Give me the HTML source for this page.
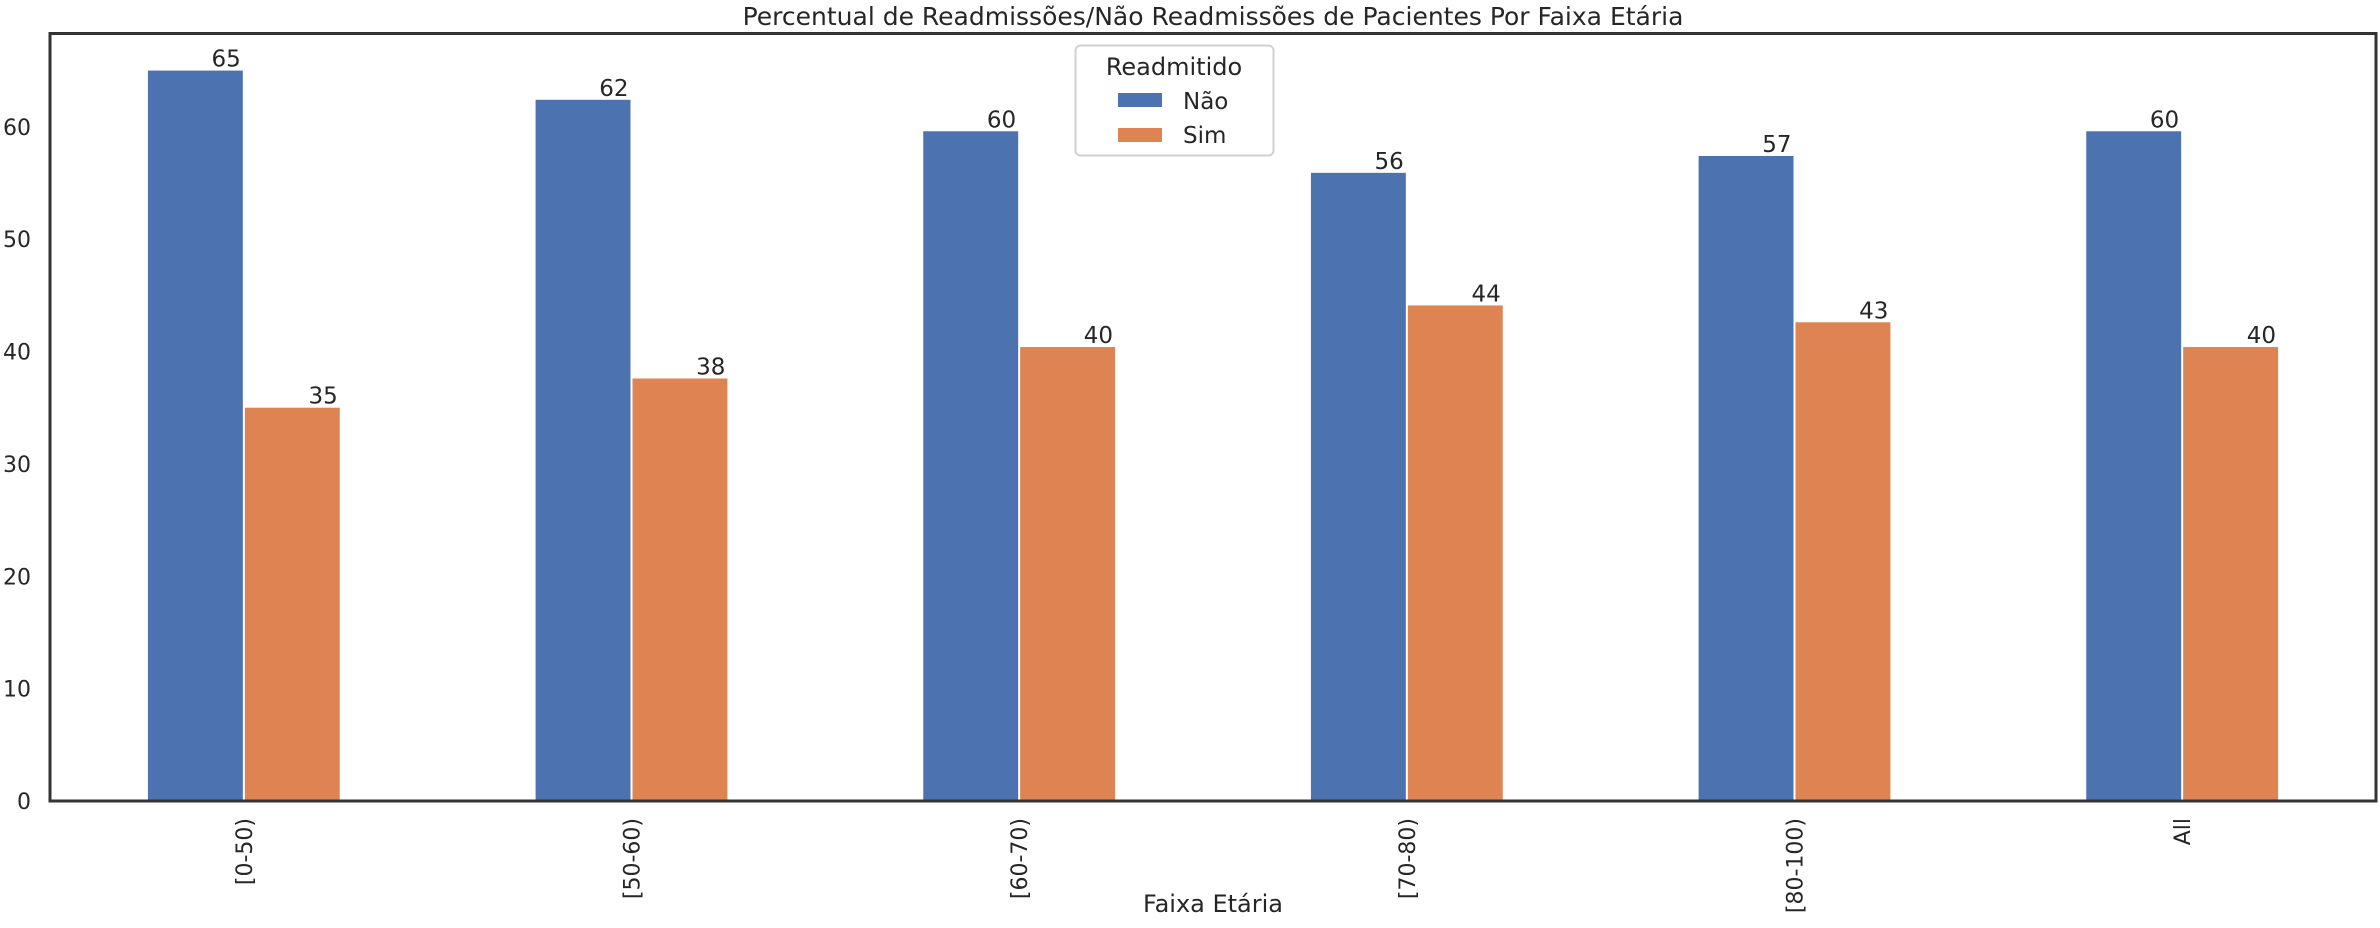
<!DOCTYPE html>
<html><head><meta charset="utf-8"><style>
html,body{margin:0;padding:0;background:#fff}
svg{display:block;font-family:"DejaVu Sans","Liberation Sans",sans-serif}
</style></head><body>
<svg id="chart" width="2380" height="928" viewBox="0 0 2380 928">
<text x="1213" y="25" font-size="25" text-anchor="middle" fill="#262626">Percentual de Readmissões/Não Readmissões de Pacientes Por Faixa Etária</text>
<g id="bars"></g>
<g id="yticks"></g>
<g id="xticks"></g>
<rect x="50" y="33.5" width="2326" height="767.5" fill="none" stroke="#333" stroke-width="3"/>
<text x="1213" y="912" font-size="24" text-anchor="middle" fill="#262626">Faixa Etária</text>
<g>
<rect x="1075.5" y="45.5" width="198" height="110" rx="5" fill="#fff" stroke="#d0d0d0" stroke-width="2"/>
<text x="1174" y="75" font-size="24" text-anchor="middle" fill="#262626">Readmitido</text>
<g><rect x="1118" y="93" width="44" height="14" fill="#4c72b0"/><text x="1183" y="109" font-size="23" fill="#262626">Não</text></g>
<g><rect x="1118" y="128" width="44" height="14" fill="#dd8452"/><text x="1183" y="143" font-size="23" fill="#262626">Sim</text></g>
</g>
</svg>
<script>
const categories = ["[0-50)", "[50-60)", "[60-70)", "[70-80)", "[80-100)", "All"];
const naoValues = [65.0, 62.4, 59.6, 55.9, 57.4, 59.6];
const simValues = [35.0, 37.6, 40.4, 44.1, 42.6, 40.4];
const yTicks = [0, 10, 20, 30, 40, 50, 60];

const NS = "http://www.w3.org/2000/svg";
const plotL = 50, plotR = 2376, plotT = 33.5, plotB = 801, yMax = 68.3;
const step = (plotR - plotL) / categories.length;
function xPos(i) { return plotL + step * (i + 0.5); }
function yPos(v) { return plotB - (v / yMax) * (plotB - plotT); }
const barW = step * 0.25;

function mk(tag, attrs) { const e = document.createElementNS(NS, tag); for (const k in attrs) e.setAttribute(k, attrs[k]); return e; }
const bars = document.getElementById('bars');
const series = [{vals: naoValues, color: '#4c72b0', off: -1, key: 'nao'}, {vals: simValues, color: '#dd8452', off: 0, key: 'sim'}];
series.forEach(s => {
  s.vals.forEach((v, i) => {
    const x = xPos(i) + s.off * barW;
    const r = mk('rect', {x: x + 1, y: yPos(v), width: barW - 2, height: plotB - yPos(v), fill: s.color});
    
    
    bars.appendChild(r);
    const t = mk('text', {x: x + barW - 3, y: yPos(v) - 4, 'font-size': 23, 'text-anchor': 'end', fill: '#262626'});
    t.textContent = Math.round(v);
    
    
    bars.appendChild(t);
  });
});
const yg = document.getElementById('yticks');
yTicks.forEach(v => {
  const t = mk('text', {x: 31, y: yPos(v) + 8, 'font-size': 22, 'text-anchor': 'end', fill: '#262626'});
  t.textContent = v;
  
  
  yg.appendChild(t);
});
const xg = document.getElementById('xticks');
categories.forEach((c, i) => {
  const x = xPos(i) + 8;
  const t = mk('text', {x: x, y: 818, 'font-size': 22, 'text-anchor': 'end', fill: '#262626', transform: 'rotate(-90 ' + x + ' 818)'});
  t.textContent = c;
  
  
  xg.appendChild(t);
});
</script>
</body></html>
